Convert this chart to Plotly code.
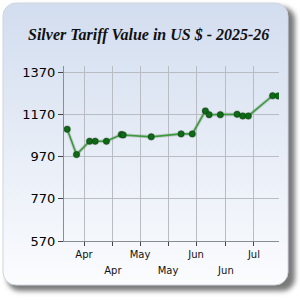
import plotly.graph_objects as go
import urllib.parse

# ---- data ----
dates = ["2025-03-23", "2025-03-28", "2025-04-04", "2025-04-07", "2025-04-13",
         "2025-04-21", "2025-04-22", "2025-05-07", "2025-05-23", "2025-05-29",
         "2025-06-05", "2025-06-07", "2025-06-13", "2025-06-22", "2025-06-25",
         "2025-06-28", "2025-07-11", "2025-07-14"]
values = [1100, 980, 1043, 1043, 1043, 1075, 1073, 1064, 1078, 1078,
          1187, 1169, 1169, 1171, 1163, 1163, 1259, 1258]

y_ticks = [570, 770, 970, 1170, 1370]
x_tick_dates = ["2025-04-01", "2025-04-16 12:00", "2025-05-01", "2025-05-16",
                "2025-05-31", "2025-06-16", "2025-07-01"]
x_tick_labels = ["Apr", "Apr", "May", "May", "Jun", "Jun", "Jul"]
title = "Silver Tariff Value in US $ - 2025-26"

x_range = ["2025-03-21 07:00", "2025-07-14 10:00"]
y_range = [570, 1400]

# top row gets the even-index labels, bottom row the odd-index ones
top_text = [t if i % 2 == 0 else "" for i, t in enumerate(x_tick_labels)]
bot_vals = [d for i, d in enumerate(x_tick_dates) if i % 2 == 1]
bot_text = [t for i, t in enumerate(x_tick_labels) if i % 2 == 1]

svg = """<svg xmlns='http://www.w3.org/2000/svg' width='300' height='300'>
<defs>
<linearGradient id='g' x1='0' y1='0' x2='0' y2='1'>
<stop offset='0' stop-color='#d2ddef'/>
<stop offset='1' stop-color='#fbfcfe'/>
</linearGradient>
<filter id='s' x='-10%' y='-10%' width='120%' height='120%'><feGaussianBlur stdDeviation='2.5'/></filter>
</defs>
<rect x='7' y='7' width='288' height='284' rx='13' fill='#7a7a7a' filter='url(#s)'/>
<rect x='3' y='3' width='285' height='282' rx='13' fill='url(#g)' stroke='#d0d6e0' stroke-width='1'/>
</svg>"""
src = "data:image/svg+xml;charset=utf-8," + urllib.parse.quote(svg)

fig = go.Figure()
# soft shadow under the line
fig.add_trace(go.Scatter(
    x=dates, y=values, mode="lines+markers",
    line=dict(color="rgba(90,110,90,0.25)", width=3.5),
    marker=dict(size=8, color="rgba(90,110,90,0.25)"),
    hoverinfo="skip", showlegend=False))
fig.add_trace(go.Scatter(
    x=dates, y=values, mode="lines+markers",
    line=dict(color="#3d9a3d", width=1.6),
    marker=dict(size=6, color="#0f6a17", line=dict(color="#0a4a10", width=0.8)),
    showlegend=False))
# invisible trace to carry the second label row
fig.add_trace(go.Scatter(x=[dates[0]], y=[values[0]], xaxis="x2", mode="markers",
                         marker=dict(opacity=0), hoverinfo="skip", showlegend=False))

fig.update_layout(
    width=300, height=300,
    margin=dict(l=0, r=0, t=0, b=0),
    paper_bgcolor="white", plot_bgcolor="rgba(0,0,0,0)",
    images=[dict(source=src, xref="paper", yref="paper", x=0, y=1,
                 sizex=1, sizey=1, sizing="stretch", xanchor="left",
                 yanchor="top", layer="below")],
    xaxis=dict(type="date", range=x_range, domain=[64/300, 279/300],
               tickvals=x_tick_dates, ticktext=top_text,
               showgrid=True, gridcolor="#b9bcc2", gridwidth=1,
               ticks="outside", ticklen=4, tickcolor="#444",
               showline=True, linecolor="#8a8d92", linewidth=1,
               tickfont=dict(family="DejaVu Sans", size=10, color="#111"),
               automargin=False, zeroline=False, anchor="y"),
    xaxis2=dict(type="date", range=x_range, domain=[64/300, 279/300],
                overlaying="x", side="bottom", anchor="y",
                tickvals=bot_vals, ticktext=bot_text,
                showgrid=False, ticks="outside", ticklen=20, tickcolor="rgba(0,0,0,0)",
                showline=False, automargin=False, zeroline=False,
                tickfont=dict(family="DejaVu Sans", size=10, color="#111")),
    yaxis=dict(range=y_range, domain=[1 - 241/300, 1 - 66/300],
               tickvals=y_ticks, ticktext=[str(v) for v in y_ticks],
               showgrid=True, gridcolor="#b9bcc2", gridwidth=1,
               ticks="outside", ticklen=5, tickcolor="#444",
               showline=True, linecolor="#8a8d92", linewidth=1,
               tickfont=dict(family="DejaVu Sans", size=13, color="#000"),
               automargin=False, zeroline=False),
    annotations=[dict(text="<b><i>" + title + "</i></b>", xref="paper", yref="paper",
                      x=148/300, y=1 - 35/300, xanchor="center", yanchor="middle",
                      showarrow=False,
                      font=dict(family="Liberation Serif", size=16, color="#111"))],
)

fig.write_html("out.html")
